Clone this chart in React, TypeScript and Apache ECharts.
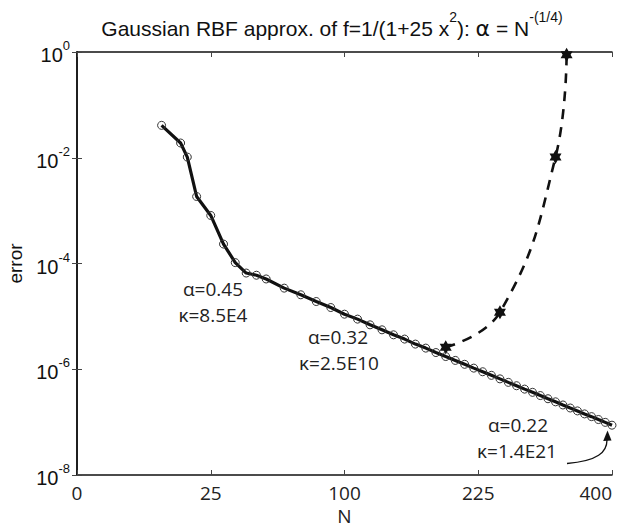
import React, { useEffect, useRef } from "react";
import * as echarts from "echarts";

// Solid curve: alpha = N^(-1/4), error vs N
const N_SOLID = [10, 15, 17, 20, 25, 30, 35, 40, 45, 50, 60, 70, 80, 90, 100, 110, 120, 130, 140, 150, 160, 170, 180, 190, 200, 210, 220, 230, 240, 250, 260, 270, 280, 290, 300, 310, 320, 330, 340, 350, 360, 370, 380, 390, 400];
const ERR_SOLID = [4.1e-2, 1.9e-2, 1.03e-2, 1.85e-3, 8.1e-4, 2.33e-4, 1.04e-4, 6.6e-5, 6.0e-5, 5.1e-5, 3.42e-5, 2.56e-5, 1.91e-5, 1.47e-5, 1.1e-5, 8.87e-6, 6.92e-6, 5.57e-6, 4.48e-6, 3.72e-6, 2.99e-6, 2.51e-6, 2.07e-6, 1.74e-6, 1.47e-6, 1.24e-6, 1.05e-6, 8.97e-7, 7.67e-7, 6.58e-7, 5.65e-7, 4.88e-7, 4.21e-7, 3.66e-7, 3.18e-7, 2.77e-7, 2.42e-7, 2.11e-7, 1.85e-7, 1.63e-7, 1.43e-7, 1.27e-7, 1.12e-7, 9.9e-8, 8.75e-8];

// Dashed curve (stars)
const N_DASHED = [190, 250, 320, 335];
const ERR_DASHED = [2.6e-6, 1.2e-5, 1.03e-2, 0.89];

// Axis ticks
const X_TICKS_SQRT = [0, 5, 10, 15, 20]; // labels 0, 25, 100, 225, 400
const Y_EXPONENTS = [-8, -6, -4, -2, 0];

const HEXAGRAM =
  "path://M0,-100L28.9,-50L86.6,-50L57.7,0L86.6,50L28.9,50L0,100L-28.9,50L-86.6,50L-57.7,0L-86.6,-50L-28.9,-50Z";

const LABEL_FONT = "'Open Sans', 'DejaVu Sans', sans-serif";
const HELV = "'Liberation Sans', Arial, sans-serif";

export default function App() {
  const ref = useRef<HTMLDivElement>(null);

  useEffect(() => {
    if (!ref.current) return;
    const chart = echarts.init(ref.current, undefined, { renderer: "svg" });

    const solidData = N_SOLID.map((n, i) => [Math.sqrt(n), ERR_SOLID[i]]);
    const dashedData = N_DASHED.map((n, i) => [Math.sqrt(n), ERR_DASHED[i]]);

    const xMin = X_TICKS_SQRT[0];
    const xMax = X_TICKS_SQRT[X_TICKS_SQRT.length - 1];
    const yMin = Math.pow(10, Y_EXPONENTS[0]);
    const yMax = Math.pow(10, Y_EXPONENTS[Y_EXPONENTS.length - 1]);

    const axisLine = { show: true, lineStyle: { color: "#111", width: 1.5 } };
    const tick = { show: true, inside: true, length: 5, lineStyle: { color: "#444", width: 1 } };

    const annot = (text: string, x: number, y: number) => ({
      type: "text",
      x,
      y,
      style: {
        text,
        fill: "#222",
        font: `19px ${LABEL_FONT}`,
        align: "center",
        verticalAlign: "middle",
      },
    });

    chart.setOption({
      animation: false,
      backgroundColor: "#fff",
      title: {
        text: "{t|Gaussian RBF approx. of f=1/(1+25 x}{s|2}{t|): }{a|α}{t| = N}{s|-(1/4)}",
        left: 327,
        top: 5,
        textAlign: "center",
        textStyle: {
          fontWeight: "normal",
          rich: {
            t: { fontFamily: HELV, fontSize: 21, fontWeight: "normal", color: "#111", lineHeight: 29, verticalAlign: "bottom" },
            a: { fontFamily: "'DejaVu Sans', sans-serif", fontSize: 22, fontWeight: "normal", color: "#111", lineHeight: 29, verticalAlign: "bottom" },
            s: { fontFamily: HELV, fontSize: 14, fontWeight: "normal", color: "#111", lineHeight: 16, verticalAlign: "top" },
          },
        },
      },
      grid: { left: 77, right: 13, top: 52, bottom: 53, containLabel: false, outerBoundsMode: "none" },
      xAxis: [
        {
          type: "value",
          min: xMin,
          max: xMax,
          interval: 5,
          position: "bottom",
          axisLine,
          axisTick: tick,
          splitLine: { show: false },
          axisLabel: {
            margin: 8,
            color: "#222",
            fontFamily: LABEL_FONT,
            fontSize: 19,
            alignMaxLabel: "right",
            formatter: (v: number) => String(Math.round(v * v)),
          },
          name: "N",
          nameLocation: "middle",
          nameGap: 28,
          nameTextStyle: { color: "#222", fontFamily: LABEL_FONT, fontSize: 19 },
        },
        {
          type: "value",
          min: xMin,
          max: xMax,
          interval: 5,
          position: "top",
          axisLine,
          axisTick: tick,
          splitLine: { show: false },
          axisLabel: { show: false },
        },
      ],
      yAxis: [
        {
          type: "log",
          logBase: 10,
          min: yMin,
          max: yMax,
          interval: 2,
          position: "left",
          axisLine,
          axisTick: tick,
          minorTick: { show: false },
          splitLine: { show: false },
          axisLabel: {
            margin: 7,
            formatter: (v: number) => `{a|10}{b|${Math.round(Math.log10(v))}}`,
            rich: {
              a: { fontFamily: HELV, fontSize: 20, color: "#111", lineHeight: 26, verticalAlign: "bottom" },
              b: { fontFamily: HELV, fontSize: 13, color: "#111", lineHeight: 14, verticalAlign: "top" },
            },
          },
          name: "error",
          nameLocation: "middle",
          nameGap: 46,
          nameRotate: 90,
          nameTextStyle: { color: "#111", fontFamily: HELV, fontSize: 19 },
        },
        {
          type: "log",
          logBase: 10,
          min: yMin,
          max: yMax,
          interval: 2,
          position: "right",
          axisLine,
          axisTick: tick,
          minorTick: { show: false },
          splitLine: { show: false },
          axisLabel: { show: false },
        },
      ],
      series: [
        {
          type: "line",
          data: solidData,
          xAxisIndex: 0,
          yAxisIndex: 0,
          symbol: "circle",
          symbolSize: 8,
          showSymbol: true,
          itemStyle: { color: "rgba(255,255,255,0)", borderColor: "#333", borderWidth: 1 },
          lineStyle: { color: "#111", width: 3.2 },
          z: 3,
        },
        {
          type: "line",
          data: dashedData,
          xAxisIndex: 0,
          yAxisIndex: 0,
          smooth: 0.45,
          symbol: HEXAGRAM,
          symbolSize: [12, 14],
          itemStyle: { color: "#111", borderWidth: 0 },
          lineStyle: { color: "#111", width: 2.6, type: [10, 8] },
          z: 2,
        },
      ],
      graphic: [
        annot("α=0.45", 213, 289),
        annot("κ=8.5E4", 213, 315),
        annot("α=0.32", 338, 337),
        annot("κ=2.5E10", 339, 363),
        annot("α=0.22", 518, 425),
        annot("κ=1.4E21", 517, 451),
        {
          type: "bezierCurve",
          shape: { x1: 567, y1: 463.5, cpx1: 598, cpy1: 461, cpx2: 607, cpy2: 452, x2: 607, y2: 440 },
          style: { stroke: "#111", lineWidth: 1.3, fill: "none" },
        },
        {
          type: "polygon",
          shape: { points: [[607.5, 430.5], [603.2, 441], [611.5, 440.5]] },
          style: { fill: "#111" },
        },
      ],
    });

    return () => chart.dispose();
  }, []);

  return (
    <div
      ref={ref}
      style={{ position: "absolute", left: 0, top: 0, width: 625, height: 528 }}
    />
  );
}
